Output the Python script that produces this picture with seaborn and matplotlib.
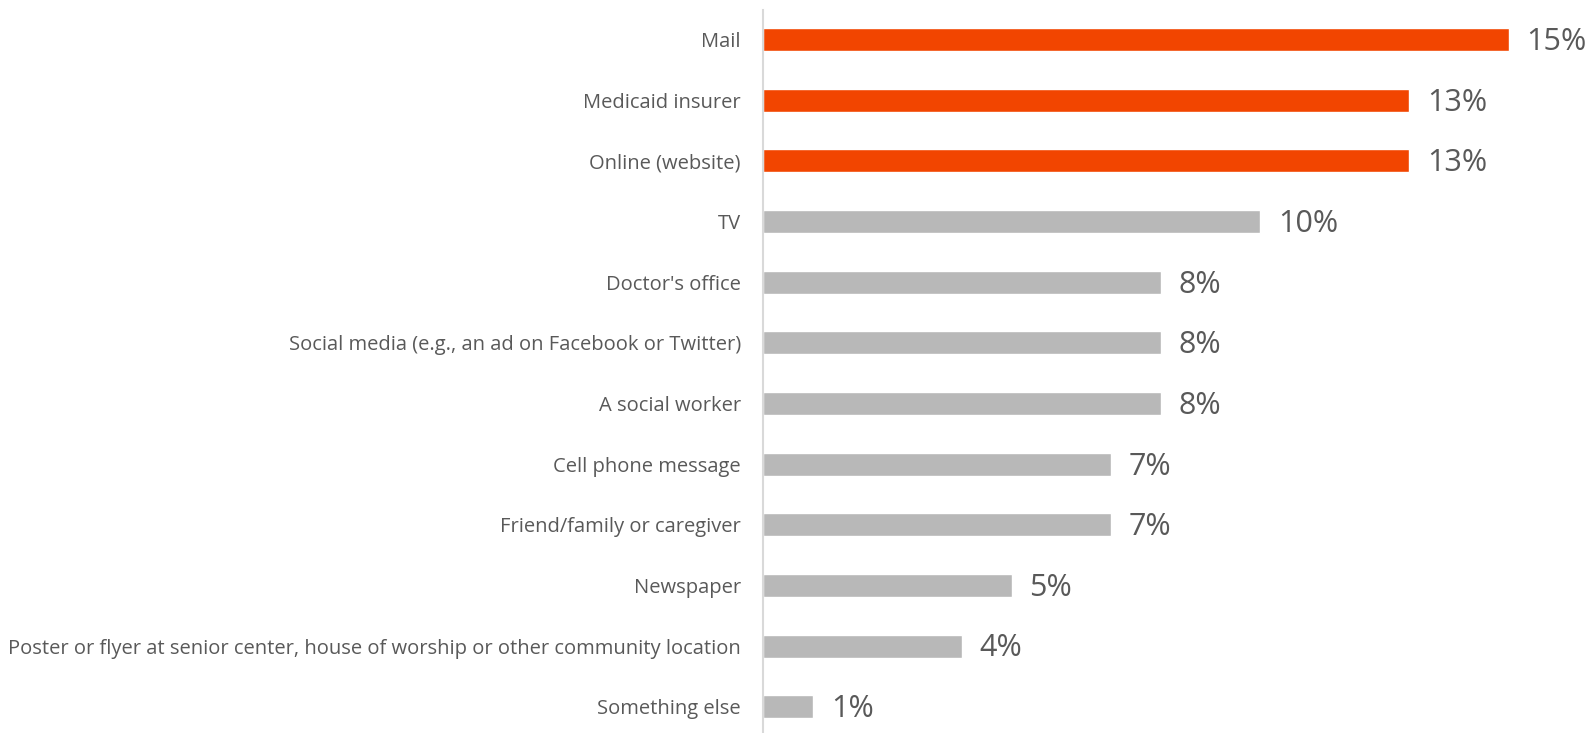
import matplotlib
matplotlib.use("Agg")
import matplotlib.pyplot as plt
import seaborn as sns
import pandas as pd

categories = [
    "Mail",
    "Medicaid insurer",
    "Online (website)",
    "TV",
    "Doctor's office",
    "Social media (e.g., an ad on Facebook or Twitter)",
    "A social worker",
    "Cell phone message",
    "Friend/family or caregiver",
    "Newspaper",
    "Poster or flyer at senior center, house of worship or other community location",
    "Something else",
]
values = [15, 13, 13, 10, 8, 8, 8, 7, 7, 5, 4, 1]
highlight = [True, True, True, False, False, False, False, False, False, False, False, False]

ORANGE = "#F24500"
GRAY = "#B8B8B8"
TEXT = "#595959"

df = pd.DataFrame({"source": categories, "pct": values,
                   "group": ["top" if h else "other" for h in highlight]})

sns.set_theme(style="white")
plt.rcParams["font.family"] = ["Open Sans", "DejaVu Sans"]

W, H, DPI = 1589, 733, 100
fig = plt.figure(figsize=(W / DPI, H / DPI), dpi=DPI)
left_px = 763
ax = fig.add_axes([left_px / W, 0, (W - left_px) / W, 1])

sns.barplot(data=df, x="pct", y="source", hue="group", order=categories,
            palette={"top": ORANGE, "other": GRAY}, dodge=False,
            width=0.38, legend=False, ax=ax, saturation=1)

px_per_pct = 49.7
ax.set_xlim(0, (W - left_px) / px_per_pct)
step = 60.65
ax.set_ylim(11 + (H - 706.7) / step, -39.5 / step)

for i, v in enumerate(values):
    ax.text(v + 18 / px_per_pct, i + 0.04, f"{v}%", va="center", ha="left",
            fontsize=22, color=TEXT)

for s in ["top", "right", "bottom"]:
    ax.spines[s].set_visible(False)
ax.spines["left"].set_color("#D9D9D9")
ax.spines["left"].set_linewidth(1.5)
ax.spines["left"].set_bounds(11 + (H - 706.7) / step, -(39.5 - 10) / step)

ax.set_xticks([])
ax.set_xlabel("")
ax.set_ylabel("")
ax.tick_params(axis="y", length=0, pad=16, labelsize=14.5, labelcolor=TEXT)

fig.savefig("out.png", dpi=DPI)
